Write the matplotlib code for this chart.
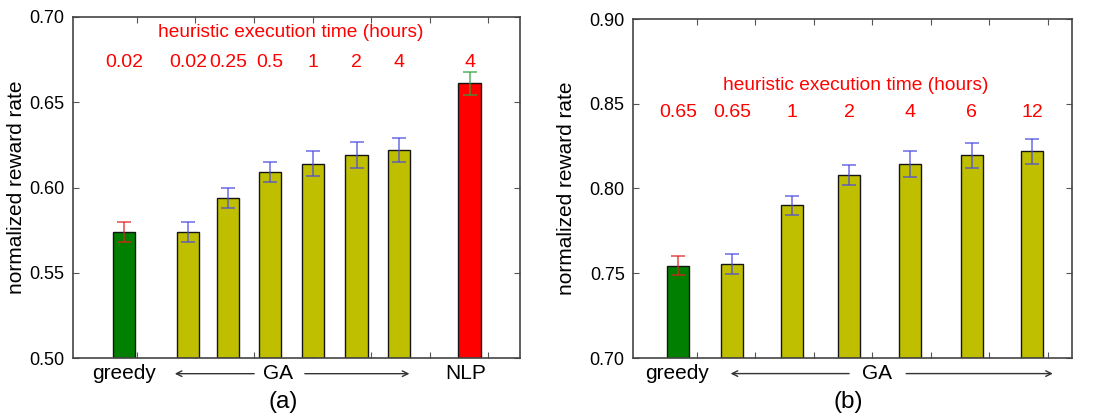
import numpy as np
import matplotlib
matplotlib.use('Agg')
import matplotlib.pyplot as plt
import matplotlib.transforms as mtransforms

plt.rcParams['font.family'] = ['Liberation Sans', 'DejaVu Sans']

# panel (a)
a_pos = [0.78, 1.87, 2.56, 3.27, 4.01, 4.75, 5.47, 6.68]
a_vals = [0.574, 0.574, 0.594, 0.609, 0.614, 0.619, 0.622, 0.661]
a_err = [0.006, 0.006, 0.006, 0.006, 0.0075, 0.0075, 0.007, 0.007]
a_colors = ['#007f00'] + ['#bfbf00'] * 6 + ['#ff0000']
a_ecolors = ['#e02020'] + ['#4a4ae0'] * 6 + ['#30a040']
a_times = ['0.02', '0.02', '0.25', '0.5', '1', '2', '4', '4']

# panel (b)
b_pos = [0.68, 1.60, 2.63, 3.60, 4.64, 5.70, 6.73]
b_vals = [0.7545, 0.7553, 0.790, 0.808, 0.8145, 0.8195, 0.822]
b_err = [0.0057, 0.0058, 0.0058, 0.0058, 0.0075, 0.0076, 0.0073]
b_colors = ['#007f00'] + ['#bfbf00'] * 6
b_ecolors = ['#e02020'] + ['#4a4ae0'] * 6
b_times = ['0.65', '0.65', '1', '2', '4', '6', '12']

fig = plt.figure(figsize=(10.99, 4.15), dpi=100)
ax1 = fig.add_axes([73 / 1099, 57 / 415, 447 / 1099, 341 / 415])
ax2 = fig.add_axes([633 / 1099, 57 / 415, 439 / 1099, 339 / 415])


def draw_panel(ax, pos, vals, err, colors, ecolors, times, ylim, yticks,
               title_x, title_y, num_y, label_x):
    ax.bar(pos, [v - ylim[0] for v in vals], bottom=ylim[0], width=0.38,
           color=colors, edgecolor='#151515', linewidth=1.0, zorder=2)
    for x, v, e, c in zip(pos, vals, err, ecolors):
        ax.errorbar(x, v, yerr=e, fmt='none', ecolor=c, elinewidth=1.2,
                    capsize=5, capthick=1.2, alpha=0.75, zorder=3)
    ax.set_ylim(*ylim)
    ax.set_yticks(yticks)
    ax.set_yticklabels(['%.2f' % t for t in yticks], fontsize=13)
    ax.set_xticks(range(1, 8))
    ax.set_xticklabels([])
    ax.tick_params(direction='in', top=True, right=True, length=4,
                   color='#555555', pad=6)
    ax.set_ylabel('normalized reward rate', fontsize=15)
    ax.yaxis.set_label_coords(label_x, 0.5)
    for sp in ax.spines.values():
        sp.set_color('#444444')
        sp.set_linewidth(1.2)
    ax.text(title_x, title_y, 'heuristic execution time (hours)',
            color='red', fontsize=13.8, ha='center', va='center')
    for x, t in zip(pos, times):
        ax.text(x, num_y, t, color='red', fontsize=14,
                ha='center', va='center')


draw_panel(ax1, a_pos, a_vals, a_err, a_colors, a_ecolors, a_times,
           (0.50, 0.70), [0.50, 0.55, 0.60, 0.65, 0.70], 3.62, 0.691, 0.6736,
           -0.105)
ax1.set_xlim(-0.09, 7.54)
draw_panel(ax2, b_pos, b_vals, b_err, b_colors, b_ecolors, b_times,
           (0.70, 0.90), [0.70, 0.75, 0.80, 0.85, 0.90], 3.72, 0.861, 0.845,
           -0.13)
ax2.set_xlim(-0.09, 7.41)


def under_labels(ax, greedy_x, ga_x, left_arrow, right_arrow, nlp_x, sub_x, sub):
    tr = mtransforms.blended_transform_factory(ax.transData, ax.transAxes)
    ly = -0.046
    ax.text(greedy_x, ly, 'greedy', transform=tr, fontsize=15,
            ha='center', va='center')
    ax.text(ga_x, ly, 'GA', transform=tr, fontsize=15,
            ha='center', va='center')
    if nlp_x is not None:
        ax.text(nlp_x, ly, 'NLP', transform=tr, fontsize=15,
                ha='center', va='center')
    for x0, x1 in (left_arrow, right_arrow):
        ax.annotate('', xy=(x1, ly), xytext=(x0, ly), xycoords=tr,
                    textcoords=tr, annotation_clip=False,
                    arrowprops=dict(arrowstyle='->', color='#333333', lw=1.0))
    ax.text(sub_x, -0.13, sub, transform=tr, fontsize=17.5,
            ha='center', va='center')


under_labels(ax1, 0.78, 3.41, (3.05, 1.60), (3.82, 5.70), 6.62, 3.50, '(a)')
under_labels(ax2, 0.67, 4.08, (3.65, 1.53), (4.53, 7.13), None, 3.58, '(b)')

fig.savefig('out.png', dpi=100)
